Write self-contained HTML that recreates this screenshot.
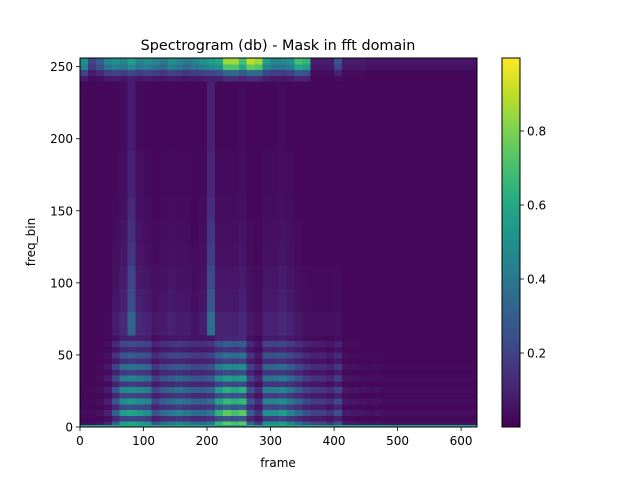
<!DOCTYPE html>
<html><head><meta charset="utf-8"><style>
body{margin:0;background:#fff}
svg text{font-family:"DejaVu Sans","Liberation Sans",sans-serif;fill:#000}
</style></head><body>
<svg id="chart" width="640" height="480" viewBox="0 0 640 480" xmlns="http://www.w3.org/2000/svg">
<rect width="640" height="480" fill="#fff"/>
<text x="278" y="50" font-size="14.4" text-anchor="middle">Spectrogram (db) - Mask in fft domain</text>
<g id="heat"></g>
<rect x="80" y="58" width="397" height="369" fill="none" stroke="#000" stroke-width="1"/>
<g id="xaxis"></g>
<g id="yaxis"></g>
<text x="278" y="467" font-size="12" text-anchor="middle">frame</text>
<text transform="translate(35,242) rotate(-90)" font-size="12" text-anchor="middle">freq_bin</text>
<defs><linearGradient id="cbg" x1="0" y1="1" x2="0" y2="0"></linearGradient></defs>
<rect x="502" y="58" width="18" height="369" fill="url(#cbg)" stroke="#000" stroke-width="1"/>
<g id="cbaxis"></g>
</svg>
<script>
const nFrames = 625, nBins = 256, colFrames = 12.5;
const lowBand = [0.03,0.03,0.05,0.1,0.3,0.55,0.6,0.55,0.5,0.25,0.35,0.4,0.45,0.4,0.35,0.35,0.4,0.65,0.75,0.7,0.75,0.3,0.15,0.5,0.5,0.55,0.45,0.35,0.25,0.2,0.2,0.15,0.25,0.08,0.07,0.06,0.05,0.06,0.04,0.04,0.04,0.04,0.04,0.04,0.04,0.04,0.04,0.04,0.04,0.04];
const midBand = [0.03,0.03,0.03,0.04,0.1,0.15,0.4,0.15,0.12,0.08,0.1,0.12,0.1,0.1,0.07,0.1,0.45,0.12,0.12,0.12,0.15,0.08,0.06,0.12,0.12,0.15,0.12,0.08,0.06,0.05,0.05,0.05,0.06,0.03,0.02,0.02,0.02,0.02,0.02,0.02,0.02,0.02,0.02,0.02,0.02,0.02,0.02,0.02,0.02,0.02];
const topBand = [0.5,0.2,0.3,0.45,0.5,0.45,0.55,0.45,0.5,0.45,0.4,0.5,0.45,0.4,0.45,0.5,0.55,0.6,0.85,0.85,0.7,0.9,0.85,0.55,0.45,0.45,0.5,0.7,0.65,0.08,0.08,0.08,0.25,0.08,0.08,0.08,0.06,0.06,0.06,0.06,0.06,0.06,0.06,0.06,0.06,0.06,0.06,0.06,0.06,0.06];
// per 4-bin row multipliers for bins 0..64 (harmonic striping)
const lowProfile = [1.0,0.35,1.0,0.4,0.9,0.35,0.85,0.3,0.75,0.3,0.65,0.25,0.5,0.2,0.4,0.15];
// bins 64..240 in 16-bin rows
const midProfile = [0.8,0.6,0.5,0.4,0.35,0.3,0.25,0.25,0.2,0.2,0.2];
// bins 240..256 in 4-bin rows
const topProfile = [0.15,0.4,0.85,1.0];
const dcValue = 0.6;
const xTicks = [0,100,200,300,400,500,600];
const yTicks = [0,50,100,150,200,250];
const cbTicks = [0.2,0.4,0.6,0.8];

const X0=80,X1=477,Y0=427,Y1=58;
const xs = f => X0 + f*(X1-X0)/nFrames;
const ys = b => Y0 - b*(Y0-Y1)/nBins;
const cs = v => 427 - v*(427-57)/1.0;

const VIR=[[68,1,84],[72,35,116],[64,67,135],[52,94,141],[41,120,142],[32,144,140],[34,167,132],[68,190,112],[121,209,81],[189,222,38],[253,231,37]];
function viridis(v){v=Math.max(0,Math.min(1,v));const p=v*10,i=Math.min(9,Math.floor(p)),t=p-i;
 const a=VIR[i],b=VIR[i+1];return `rgb(${Math.round(a[0]+(b[0]-a[0])*t)},${Math.round(a[1]+(b[1]-a[1])*t)},${Math.round(a[2]+(b[2]-a[2])*t)})`;}
const NS="http://www.w3.org/2000/svg";
const heat=document.getElementById('heat');
function cell(f0,f1,b0,b1,v){
 const r=document.createElementNS(NS,'rect');
 r.setAttribute('x',xs(f0));r.setAttribute('width',xs(f1)-xs(f0)+0.5);
 r.setAttribute('y',ys(b1));r.setAttribute('height',ys(b0)-ys(b1)+0.5);
 r.setAttribute('fill',viridis(v));r.setAttribute('shape-rendering','crispEdges');
 
 
 heat.appendChild(r);}
for(let c=0;c<lowBand.length;c++){
 const f0=c*colFrames,f1=Math.min(nFrames,(c+1)*colFrames);
 lowProfile.forEach((p,k)=>{cell(f0,f1,k*4,k*4+4,Math.max(0.02,lowBand[c]*p));});
 midProfile.forEach((p,k)=>{cell(f0,f1,64+k*16,Math.min(240,80+k*16),Math.max(0.02,midBand[c]*p));});
 topProfile.forEach((p,k)=>{cell(f0,f1,240+k*4,244+k*4,Math.max(0.02,topBand[c]*p));});
}
cell(0,nFrames,0,1.5,dcValue);

function line(g,x1,y1,x2,y2){const l=document.createElementNS(NS,'line');l.setAttribute('x1',x1);l.setAttribute('y1',y1);l.setAttribute('x2',x2);l.setAttribute('y2',y2);l.setAttribute('stroke','#000');l.setAttribute('stroke-width','0.8');
 
 
 g.appendChild(l);}
function txt(g,x,y,s,anchor,name){const t=document.createElementNS(NS,'text');t.setAttribute('x',x);t.setAttribute('y',y);t.setAttribute('font-size','12');t.setAttribute('text-anchor',anchor);t.textContent=s;
 
 
 g.appendChild(t);}
const gx=document.getElementById('xaxis'),gy=document.getElementById('yaxis'),gc=document.getElementById('cbaxis');
xTicks.forEach(v=>{line(gx,xs(v),427,xs(v),431);txt(gx,xs(v),445,String(v),'middle','x-tick-label');});
yTicks.forEach(v=>{line(gy,76,ys(v),80,ys(v));txt(gy,73,ys(v)+4.5,String(v),'end','y-tick-label');});
cbTicks.forEach(v=>{line(gc,520,cs(v),524,cs(v));txt(gc,527,cs(v)+4.5,v.toFixed(1),'start','colorbar-tick-label');});
const grad=document.getElementById('cbg');
for(let i=0;i<=20;i++){const s=document.createElementNS(NS,'stop');s.setAttribute('offset',i/20);s.setAttribute('stop-color',viridis(i/20));grad.appendChild(s);}
</script>
</body></html>
